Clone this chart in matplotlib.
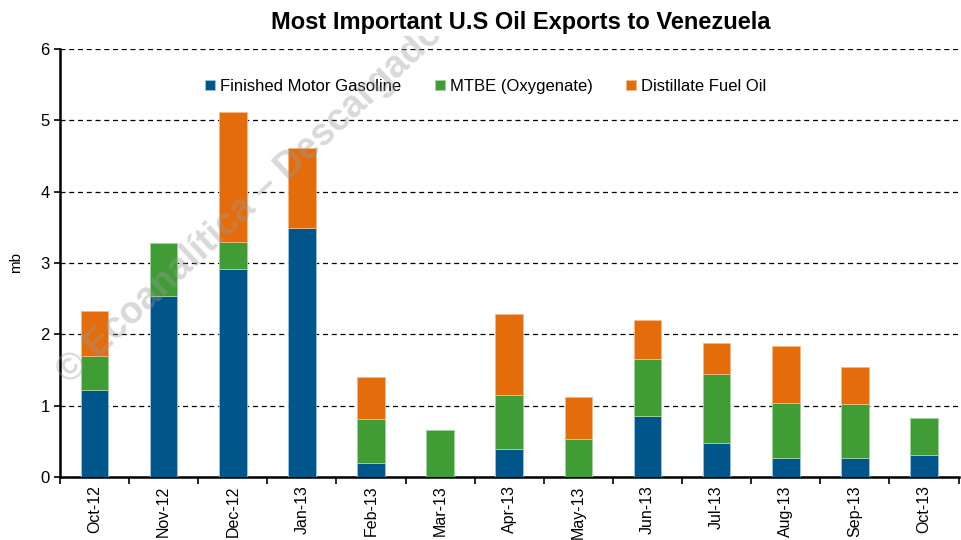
import matplotlib
matplotlib.use("Agg")
import matplotlib.pyplot as plt
import numpy as np

plt.rcParams['font.family'] = ['Liberation Sans', 'DejaVu Sans']

months = ["Oct-12", "Nov-12", "Dec-12", "Jan-13", "Feb-13", "Mar-13", "Apr-13",
          "May-13", "Jun-13", "Jul-13", "Aug-13", "Sep-13", "Oct-13"]
gasoline = [1.22, 2.54, 2.92, 3.49, 0.19, 0.00, 0.39, 0.00, 0.85, 0.47, 0.26, 0.26, 0.31]
mtbe     = [0.48, 0.74, 0.38, 0.00, 0.62, 0.66, 0.76, 0.53, 0.81, 0.98, 0.78, 0.77, 0.52]
distill  = [0.63, 0.00, 1.81, 1.12, 0.59, 0.00, 1.14, 0.59, 0.54, 0.43, 0.79, 0.51, 0.00]

c_blue, c_green, c_orange = "#00558A", "#409C35", "#E46C0A"

fig = plt.figure(figsize=(9.61, 5.40), dpi=100)
ax = fig.add_axes([0.0624, 0.1167, 0.935, 0.7926])

x = np.arange(len(months))
w = 0.40
g = np.array(gasoline); m = np.array(mtbe); d = np.array(distill)

def stack(vals, bottom, color, edge, label):
    mask = vals > 0
    ax.bar(x[mask], vals[mask], w, bottom=bottom[mask], color=color, edgecolor=edge,
           linewidth=0.6, label=label, zorder=3)

stack(g, np.zeros_like(g), c_blue, "#9fc3dc", "Finished Motor Gasoline")
stack(m, g, c_green, "#a6d39f", "MTBE (Oxygenate)")
stack(d, g + m, c_orange, "#f3b98a", "Distillate Fuel Oil")

ax.set_xlim(-0.5, len(months) - 0.5)
ax.set_ylim(0, 6)
ax.set_yticks(range(0, 7))
ax.yaxis.grid(True, linestyle=(0, (4, 3)), color="black", linewidth=0.9)
ax.set_axisbelow(True)

ax.set_xticks(x)
ax.set_xticklabels(months, rotation=90, fontsize=11.5)
ax.set_xticks(np.arange(-0.5, len(months), 1), minor=True)
ax.tick_params(axis='x', which='major', length=0, pad=6)
ax.tick_params(axis='x', which='minor', length=5, width=1.2, direction='out')
ax.tick_params(axis='y', labelsize=12, length=4, width=1.2, direction='out')

for s in ['top', 'right']:
    ax.spines[s].set_visible(False)
ax.spines['left'].set_linewidth(1.8)
ax.spines['bottom'].set_linewidth(1.8)

ax.set_ylabel("mb", fontsize=11, labelpad=12)

fig.text(0.072, 0.287, "© Ecoanalítica – Descargado", fontsize=27, fontweight='bold',
         color="#9a9a9a", alpha=0.38, rotation=43, rotation_mode='anchor', zorder=1)

fig.text(0.542, 0.958, "Most Important U.S Oil Exports to Venezuela", fontsize=17,
         fontweight='bold', ha='center', va='center', zorder=20,
         bbox=dict(facecolor='white', edgecolor='none', pad=1))

ax.legend(loc='upper center', bbox_to_anchor=(0.474, 0.965), ncol=3, frameon=False,
          fontsize=12, handlelength=0.6, handleheight=0.6, handletextpad=0.3, columnspacing=2.0)

fig.savefig("out.png", dpi=100)
